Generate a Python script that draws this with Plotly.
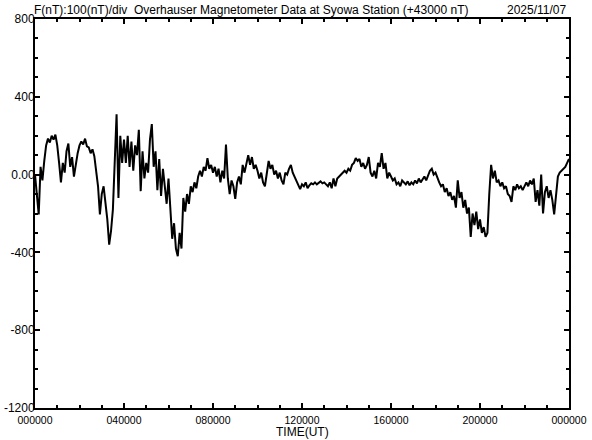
import plotly.graph_objects as go

# 5-minute samples over 24 h (UT), F - 43000 nT
f_hour00 = [0, -120, -205, 40, -30, 70, 150, 185, 165, 200, 180, 205]
f_hour01 = [150, 60, -40, 60, 10, 120, 160, 40, 90, -10, 60, 110]
f_hour02 = [150, 170, 155, 185, 145, 140, 110, 130, 95, 20, -60, -205]
f_hour03 = [-100, -60, -150, -230, -360, -290, -180, 40, 310, -120, 200, 60]
f_hour04 = [180, 60, 200, 40, 170, 20, 150, 100, 230, -85, 120, -20]
f_hour05 = [60, 10, 180, 260, 40, 120, -80, 80, -110, 30, -60, -150]
f_hour06 = [-20, -160, -330, -250, -380, -420, -300, -380, -120, -190, -100, -150]
f_hour07 = [-60, -90, -40, -70, -10, 20, -10, 40, 20, 85, 30, 50]
f_hour08 = [10, 40, -10, 30, -40, 20, -20, 155, -20, -100, -30, -60]
f_hour09 = [-125, -40, -10, -50, 50, 10, 60, 100, 50, 90, 30, 50]
f_hour10 = [20, -20, 10, -40, -60, 20, 70, 30, 50, 0, 20, -20]
f_hour11 = [10, -30, -50, 10, 0, 30, 50, 10, -10, -30, -50, -75]
f_hour12 = [-50, -60, -40, -70, -55, -45, -50, -40, -50, -40, -35, -45]
f_hour13 = [-40, -50, -60, -40, -70, -20, -60, -20, -10, 0, 10, 20]
f_hour14 = [10, 30, 20, 50, 60, 85, 70, 80, 40, 60, 30, 50]
f_hour15 = [90, 10, -10, 20, -20, 60, 40, 110, 30, 60, -20, 10]
f_hour16 = [-10, -30, -20, -50, -40, -60, -30, -40, -50, -35, -55, -40]
f_hour17 = [-50, -30, -45, -20, -40, -25, -10, -30, 0, 20, 30, 0]
f_hour18 = [10, -20, -40, -60, -50, -90, -70, -110, -90, -130, -110, -170]
f_hour19 = [-30, -120, -90, -170, -130, -200, -170, -320, -200, -260, -190, -280]
f_hour20 = [-230, -300, -270, -320, -300, -100, 50, -20, 20, -40, -30, -60]
f_hour21 = [-40, -70, -60, -100, -110, -140, -60, -80, -50, -70, -60, -80]
f_hour22 = [-60, -40, -60, -30, -50, -20, -140, -80, -160, 0, -200, -90]
f_hour23 = [-60, -120, -80, -130, -205, -100, -10, 10, 20, 30, 40, 60, 80]

x_tickvals = [0, 4, 8, 12, 16, 20, 24]
x_ticktext = ['000000', '040000', '080000', '120000', '160000', '200000', '000000']
y_tickvals = [-1200, -800, -400, 0, 400, 800]
y_ticktext = ['-1200', '-800', '-400', '0.00', '400', '800']

f_values = (f_hour00 + f_hour01 + f_hour02 + f_hour03 + f_hour04 + f_hour05
            + f_hour06 + f_hour07 + f_hour08 + f_hour09 + f_hour10 + f_hour11
            + f_hour12 + f_hour13 + f_hour14 + f_hour15 + f_hour16 + f_hour17
            + f_hour18 + f_hour19 + f_hour20 + f_hour21 + f_hour22 + f_hour23)
hours = [i * 5 / 60 for i in range(len(f_values))]

family = 'Liberation Sans, Arial, sans-serif'
font12 = dict(family=family, size=12, color='black')
font_x = dict(family=family, size=10.5, color='black')

fig = go.Figure(go.Scatter(
    x=hours, y=f_values, mode='lines',
    line=dict(color='black', width=2),
    hoverinfo='x+y'
))

axis_common = dict(
    showline=True, linecolor='black', linewidth=2, mirror='ticks',
    ticks='inside', tickcolor='black', tickwidth=2, ticklen=5,
    showgrid=False, zeroline=False, automargin=False
)

fig.update_xaxes(
    range=[0, 24], tickvals=x_tickvals, ticktext=x_ticktext, tickfont=font_x,
    ticklabelstandoff=1,
    minor=dict(dtick=1, ticks='inside', ticklen=3, tickcolor='black', tickwidth=2),
    **axis_common
)
fig.update_yaxes(
    range=[-1200, 800], tickvals=y_tickvals, ticktext=y_ticktext, tickfont=font12,
    ticklabelstandoff=-4,
    minor=dict(dtick=100, ticks='inside', ticklen=3, tickcolor='black', tickwidth=2),
    **axis_common
)

fig.add_annotation(
    x=0, y=1, xref='paper', yref='paper', xanchor='left', yanchor='bottom',
    xshift=-3, yshift=0, showarrow=False, font=font12,
    text='F(nT):100(nT)/div  Overhauser Magnetometer Data at Syowa Station (+43000 nT)'
)
fig.add_annotation(
    x=1, y=1, xref='paper', yref='paper', xanchor='right', yanchor='bottom',
    xshift=-1, yshift=0, showarrow=False, font=font12,
    text='2025/11/07'
)
fig.add_annotation(
    x=0.5, y=0, xref='paper', yref='paper', xanchor='center', yanchor='top',
    yshift=-15, showarrow=False, font=font12,
    text='TIME(UT)'
)

fig.update_layout(
    width=592, height=440,
    margin=dict(l=35, r=23, t=19, b=32),
    paper_bgcolor='white', plot_bgcolor='white',
    showlegend=False
)

# drop the browser's default body margin so the figure sits at the page corner
fig.write_html("out.html", config={'displayModeBar': False},
               post_script="document.body.style.margin='0';")
